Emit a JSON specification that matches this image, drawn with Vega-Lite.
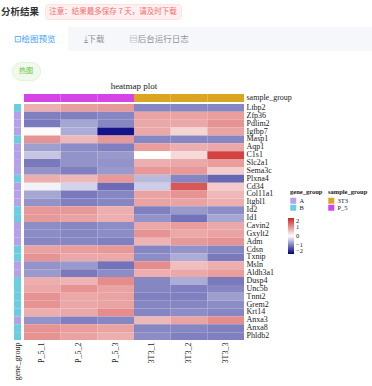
{
"$schema": "https://vega.github.io/schema/vega-lite/v6.json",
"background": "white",
"padding": {"left": 0, "top": 3, "right": 0, "bottom": 0},
"spacing": 0,
"config": {
  "view": {"stroke": null},
  "axis": {"domain": false, "ticks": false, "title": null, "labelFont": "Liberation Serif", "labelFontSize": 8, "labelColor": "#1a1a1a", "labelPadding": 2, "labelOverlap": false, "labelBound": false},
  "legend": {"titleFont": "Liberation Serif", "labelFont": "Liberation Serif", "titleFontSize": 6.5, "labelFontSize": 6.5, "titleColor": "#1a1a1a", "labelColor": "#1a1a1a", "titleFontWeight": "bold", "symbolType": "square", "symbolSize": 36, "symbolStrokeWidth": 0, "rowPadding": 0, "titlePadding": 2, "labelOffset": 3, "labelOverlap": false},
  "text": {"baseline": "middle"}
},
"datasets": {
  "samples": [
    {"sample": "P_5_1", "sample_group": "P_5"},
    {"sample": "P_5_2", "sample_group": "P_5"},
    {"sample": "P_5_3", "sample_group": "P_5"},
    {"sample": "3T3_1", "sample_group": "3T3"},
    {"sample": "3T3_2", "sample_group": "3T3"},
    {"sample": "3T3_3", "sample_group": "3T3"}
  ],
  "genes": [
    {"gene": "Ltbp2", "gene_group": "B"},
    {"gene": "Zfp36", "gene_group": "A"},
    {"gene": "Pdlim2", "gene_group": "A"},
    {"gene": "Igfbp7", "gene_group": "A"},
    {"gene": "Masp1", "gene_group": "B"},
    {"gene": "Aqp1", "gene_group": "A"},
    {"gene": "C1s1", "gene_group": "A"},
    {"gene": "Slc2a1", "gene_group": "A"},
    {"gene": "Sema3c", "gene_group": "A"},
    {"gene": "Plxna4", "gene_group": "B"},
    {"gene": "Cd34", "gene_group": "A"},
    {"gene": "Col11a1", "gene_group": "A"},
    {"gene": "Itgbl1", "gene_group": "A"},
    {"gene": "Id2", "gene_group": "B"},
    {"gene": "Id1", "gene_group": "B"},
    {"gene": "Cavin2", "gene_group": "A"},
    {"gene": "Gxylt2", "gene_group": "A"},
    {"gene": "Adm", "gene_group": "A"},
    {"gene": "Cdsn", "gene_group": "B"},
    {"gene": "Txnip", "gene_group": "B"},
    {"gene": "Msln", "gene_group": "A"},
    {"gene": "Aldh3a1", "gene_group": "A"},
    {"gene": "Dusp4", "gene_group": "B"},
    {"gene": "Unc5b", "gene_group": "B"},
    {"gene": "Tnnt2", "gene_group": "B"},
    {"gene": "Grem2", "gene_group": "B"},
    {"gene": "Krt14", "gene_group": "B"},
    {"gene": "Anxa3", "gene_group": "A"},
    {"gene": "Anxa8", "gene_group": "B"},
    {"gene": "Phldb2", "gene_group": "B"}
  ],
  "cells": [
    {"gene":"Ltbp2","sample":"P_5_1","value":0.75},{"gene":"Ltbp2","sample":"P_5_2","value":0.9},{"gene":"Ltbp2","sample":"P_5_3","value":0.95},{"gene":"Ltbp2","sample":"3T3_1","value":-0.95},{"gene":"Ltbp2","sample":"3T3_2","value":-0.95},{"gene":"Ltbp2","sample":"3T3_3","value":-0.95},
    {"gene":"Zfp36","sample":"P_5_1","value":-1.0},{"gene":"Zfp36","sample":"P_5_2","value":-1.0},{"gene":"Zfp36","sample":"P_5_3","value":-0.95},{"gene":"Zfp36","sample":"3T3_1","value":0.85},{"gene":"Zfp36","sample":"3T3_2","value":0.85},{"gene":"Zfp36","sample":"3T3_3","value":0.9},
    {"gene":"Pdlim2","sample":"P_5_1","value":-1.05},{"gene":"Pdlim2","sample":"P_5_2","value":-0.7},{"gene":"Pdlim2","sample":"P_5_3","value":-0.95},{"gene":"Pdlim2","sample":"3T3_1","value":0.8},{"gene":"Pdlim2","sample":"3T3_2","value":0.8},{"gene":"Pdlim2","sample":"3T3_3","value":1.0},
    {"gene":"Igfbp7","sample":"P_5_1","value":0.05},{"gene":"Igfbp7","sample":"P_5_2","value":-0.65},{"gene":"Igfbp7","sample":"P_5_3","value":-1.85},{"gene":"Igfbp7","sample":"3T3_1","value":0.8},{"gene":"Igfbp7","sample":"3T3_2","value":0.4},{"gene":"Igfbp7","sample":"3T3_3","value":0.85},
    {"gene":"Masp1","sample":"P_5_1","value":1.0},{"gene":"Masp1","sample":"P_5_2","value":0.65},{"gene":"Masp1","sample":"P_5_3","value":0.95},{"gene":"Masp1","sample":"3T3_1","value":-0.95},{"gene":"Masp1","sample":"3T3_2","value":-0.95},{"gene":"Masp1","sample":"3T3_3","value":-0.95},
    {"gene":"Aqp1","sample":"P_5_1","value":-0.75},{"gene":"Aqp1","sample":"P_5_2","value":-0.9},{"gene":"Aqp1","sample":"P_5_3","value":-1.0},{"gene":"Aqp1","sample":"3T3_1","value":0.9},{"gene":"Aqp1","sample":"3T3_2","value":0.75},{"gene":"Aqp1","sample":"3T3_3","value":0.8},
    {"gene":"C1s1","sample":"P_5_1","value":-0.45},{"gene":"C1s1","sample":"P_5_2","value":-0.85},{"gene":"C1s1","sample":"P_5_3","value":-0.8},{"gene":"C1s1","sample":"3T3_1","value":0.0},{"gene":"C1s1","sample":"3T3_2","value":0.35},{"gene":"C1s1","sample":"3T3_3","value":1.75},
    {"gene":"Slc2a1","sample":"P_5_1","value":-1.05},{"gene":"Slc2a1","sample":"P_5_2","value":-0.85},{"gene":"Slc2a1","sample":"P_5_3","value":-0.85},{"gene":"Slc2a1","sample":"3T3_1","value":0.75},{"gene":"Slc2a1","sample":"3T3_2","value":0.8},{"gene":"Slc2a1","sample":"3T3_3","value":0.9},
    {"gene":"Sema3c","sample":"P_5_1","value":-0.85},{"gene":"Sema3c","sample":"P_5_2","value":-1.0},{"gene":"Sema3c","sample":"P_5_3","value":-0.8},{"gene":"Sema3c","sample":"3T3_1","value":0.95},{"gene":"Sema3c","sample":"3T3_2","value":0.95},{"gene":"Sema3c","sample":"3T3_3","value":0.45},
    {"gene":"Plxna4","sample":"P_5_1","value":0.75},{"gene":"Plxna4","sample":"P_5_2","value":0.65},{"gene":"Plxna4","sample":"P_5_3","value":0.95},{"gene":"Plxna4","sample":"3T3_1","value":-0.55},{"gene":"Plxna4","sample":"3T3_2","value":-0.95},{"gene":"Plxna4","sample":"3T3_3","value":-1.2},
    {"gene":"Cd34","sample":"P_5_1","value":-0.1},{"gene":"Cd34","sample":"P_5_2","value":-0.35},{"gene":"Cd34","sample":"P_5_3","value":-1.15},{"gene":"Cd34","sample":"3T3_1","value":-0.4},{"gene":"Cd34","sample":"3T3_2","value":1.55},{"gene":"Cd34","sample":"3T3_3","value":0.5},
    {"gene":"Col11a1","sample":"P_5_1","value":-0.7},{"gene":"Col11a1","sample":"P_5_2","value":-1.05},{"gene":"Col11a1","sample":"P_5_3","value":-0.95},{"gene":"Col11a1","sample":"3T3_1","value":0.85},{"gene":"Col11a1","sample":"3T3_2","value":1.0},{"gene":"Col11a1","sample":"3T3_3","value":0.65},
    {"gene":"Itgbl1","sample":"P_5_1","value":-0.85},{"gene":"Itgbl1","sample":"P_5_2","value":-1.0},{"gene":"Itgbl1","sample":"P_5_3","value":-0.95},{"gene":"Itgbl1","sample":"3T3_1","value":0.85},{"gene":"Itgbl1","sample":"3T3_2","value":0.85},{"gene":"Itgbl1","sample":"3T3_3","value":0.75},
    {"gene":"Id2","sample":"P_5_1","value":0.95},{"gene":"Id2","sample":"P_5_2","value":0.95},{"gene":"Id2","sample":"P_5_3","value":0.75},{"gene":"Id2","sample":"3T3_1","value":-1.0},{"gene":"Id2","sample":"3T3_2","value":-0.8},{"gene":"Id2","sample":"3T3_3","value":-0.9},
    {"gene":"Id1","sample":"P_5_1","value":0.95},{"gene":"Id1","sample":"P_5_2","value":0.85},{"gene":"Id1","sample":"P_5_3","value":0.75},{"gene":"Id1","sample":"3T3_1","value":-0.85},{"gene":"Id1","sample":"3T3_2","value":-1.1},{"gene":"Id1","sample":"3T3_3","value":-0.7},
    {"gene":"Cavin2","sample":"P_5_1","value":-0.9},{"gene":"Cavin2","sample":"P_5_2","value":-0.95},{"gene":"Cavin2","sample":"P_5_3","value":-0.9},{"gene":"Cavin2","sample":"3T3_1","value":0.8},{"gene":"Cavin2","sample":"3T3_2","value":0.9},{"gene":"Cavin2","sample":"3T3_3","value":0.8},
    {"gene":"Gxylt2","sample":"P_5_1","value":-0.9},{"gene":"Gxylt2","sample":"P_5_2","value":-0.95},{"gene":"Gxylt2","sample":"P_5_3","value":-0.9},{"gene":"Gxylt2","sample":"3T3_1","value":1.0},{"gene":"Gxylt2","sample":"3T3_2","value":0.8},{"gene":"Gxylt2","sample":"3T3_3","value":0.85},
    {"gene":"Adm","sample":"P_5_1","value":-0.95},{"gene":"Adm","sample":"P_5_2","value":-0.95},{"gene":"Adm","sample":"P_5_3","value":-1.0},{"gene":"Adm","sample":"3T3_1","value":0.7},{"gene":"Adm","sample":"3T3_2","value":0.95},{"gene":"Adm","sample":"3T3_3","value":1.0},
    {"gene":"Cdsn","sample":"P_5_1","value":0.85},{"gene":"Cdsn","sample":"P_5_2","value":0.9},{"gene":"Cdsn","sample":"P_5_3","value":0.95},{"gene":"Cdsn","sample":"3T3_1","value":-0.95},{"gene":"Cdsn","sample":"3T3_2","value":-0.85},{"gene":"Cdsn","sample":"3T3_3","value":-0.95},
    {"gene":"Txnip","sample":"P_5_1","value":1.0},{"gene":"Txnip","sample":"P_5_2","value":0.8},{"gene":"Txnip","sample":"P_5_3","value":0.8},{"gene":"Txnip","sample":"3T3_1","value":-0.9},{"gene":"Txnip","sample":"3T3_2","value":-0.65},{"gene":"Txnip","sample":"3T3_3","value":-1.05},
    {"gene":"Msln","sample":"P_5_1","value":-0.85},{"gene":"Msln","sample":"P_5_2","value":-0.8},{"gene":"Msln","sample":"P_5_3","value":-1.1},{"gene":"Msln","sample":"3T3_1","value":1.05},{"gene":"Msln","sample":"3T3_2","value":0.6},{"gene":"Msln","sample":"3T3_3","value":0.75},
    {"gene":"Aldh3a1","sample":"P_5_1","value":-0.8},{"gene":"Aldh3a1","sample":"P_5_2","value":-1.05},{"gene":"Aldh3a1","sample":"P_5_3","value":-0.9},{"gene":"Aldh3a1","sample":"3T3_1","value":0.75},{"gene":"Aldh3a1","sample":"3T3_2","value":0.8},{"gene":"Aldh3a1","sample":"3T3_3","value":0.9},
    {"gene":"Dusp4","sample":"P_5_1","value":0.75},{"gene":"Dusp4","sample":"P_5_2","value":0.7},{"gene":"Dusp4","sample":"P_5_3","value":1.05},{"gene":"Dusp4","sample":"3T3_1","value":-0.95},{"gene":"Dusp4","sample":"3T3_2","value":-0.65},{"gene":"Dusp4","sample":"3T3_3","value":-1.05},
    {"gene":"Unc5b","sample":"P_5_1","value":0.8},{"gene":"Unc5b","sample":"P_5_2","value":1.0},{"gene":"Unc5b","sample":"P_5_3","value":0.85},{"gene":"Unc5b","sample":"3T3_1","value":-0.95},{"gene":"Unc5b","sample":"3T3_2","value":-1.0},{"gene":"Unc5b","sample":"3T3_3","value":-0.95},
    {"gene":"Tnnt2","sample":"P_5_1","value":1.0},{"gene":"Tnnt2","sample":"P_5_2","value":0.8},{"gene":"Tnnt2","sample":"P_5_3","value":0.85},{"gene":"Tnnt2","sample":"3T3_1","value":-1.0},{"gene":"Tnnt2","sample":"3T3_2","value":-1.0},{"gene":"Tnnt2","sample":"3T3_3","value":-0.75},
    {"gene":"Grem2","sample":"P_5_1","value":1.0},{"gene":"Grem2","sample":"P_5_2","value":0.8},{"gene":"Grem2","sample":"P_5_3","value":0.85},{"gene":"Grem2","sample":"3T3_1","value":-0.95},{"gene":"Grem2","sample":"3T3_2","value":-0.95},{"gene":"Grem2","sample":"3T3_3","value":-0.9},
    {"gene":"Krt14","sample":"P_5_1","value":0.75},{"gene":"Krt14","sample":"P_5_2","value":0.8},{"gene":"Krt14","sample":"P_5_3","value":1.05},{"gene":"Krt14","sample":"3T3_1","value":-0.95},{"gene":"Krt14","sample":"3T3_2","value":-0.9},{"gene":"Krt14","sample":"3T3_3","value":-0.95},
    {"gene":"Anxa3","sample":"P_5_1","value":-0.85},{"gene":"Anxa3","sample":"P_5_2","value":-1.0},{"gene":"Anxa3","sample":"P_5_3","value":-0.95},{"gene":"Anxa3","sample":"3T3_1","value":0.65},{"gene":"Anxa3","sample":"3T3_2","value":0.85},{"gene":"Anxa3","sample":"3T3_3","value":1.05},
    {"gene":"Anxa8","sample":"P_5_1","value":1.0},{"gene":"Anxa8","sample":"P_5_2","value":0.9},{"gene":"Anxa8","sample":"P_5_3","value":0.85},{"gene":"Anxa8","sample":"3T3_1","value":-0.95},{"gene":"Anxa8","sample":"3T3_2","value":-0.95},{"gene":"Anxa8","sample":"3T3_3","value":-1.0},
    {"gene":"Phldb2","sample":"P_5_1","value":1.0},{"gene":"Phldb2","sample":"P_5_2","value":0.85},{"gene":"Phldb2","sample":"P_5_3","value":0.75},{"gene":"Phldb2","sample":"3T3_1","value":-0.9},{"gene":"Phldb2","sample":"3T3_2","value":-1.0},{"gene":"Phldb2","sample":"3T3_3","value":-1.0}
  ]
},
"vconcat": [
  {
    "spacing": 7,
    "vconcat": [
      {
        "spacing": 4,
        "hconcat": [
          {"width": 38, "height": 15, "data": {"values": [{"t": "分析结果"}]},
           "mark": {"type": "text", "font": "Noto Sans CJK SC", "fontSize": 9.5, "fontWeight": "bold", "color": "#303133"},
           "encoding": {"text": {"field": "t"}}},
          {"width": 136, "height": 15, "view": {"fill": "#fef0f0", "stroke": "#fde2e2", "cornerRadius": 3},
           "data": {"values": [{"t": "注意：结果最多保存 7 天，请及时下载"}]},
           "mark": {"type": "text", "font": "Noto Sans CJK SC", "fontSize": 7.5, "color": "#f56c6c"},
           "encoding": {"text": {"field": "t"}}}
        ]
      },
      {
        "spacing": 10,
        "vconcat": [
          {
            "spacing": 0,
            "hconcat": [
              {"width": 67, "height": 24, "view": {"fill": "#ffffff"}, "data": {"values": [{"t": "⊡绘图预览"}]},
               "mark": {"type": "text", "font": "Noto Sans CJK SC", "fontSize": 8.5, "color": "#409eff"},
               "encoding": {"text": {"field": "t"}}},
              {"width": 52, "height": 24, "view": {"fill": "#f5f7fa"}, "data": {"values": [{"t": "⤓下载"}]},
               "mark": {"type": "text", "font": "Noto Sans CJK SC", "fontSize": 8.5, "color": "#909399"},
               "encoding": {"text": {"field": "t"}}},
              {"width": 78, "height": 24, "view": {"fill": "#f5f7fa"}, "data": {"values": [{"t": "▤后台运行日志"}]},
               "mark": {"type": "text", "font": "Noto Sans CJK SC", "fontSize": 8.5, "color": "#909399"},
               "encoding": {"text": {"field": "t"}}},
              {"width": 175, "height": 24, "view": {"fill": "#f5f7fa"}, "data": {"values": [{"t": ""}]},
               "mark": {"type": "text"},
               "encoding": {"text": {"field": "t"}}}
            ]
          },
          {
            "spacing": 0,
            "hconcat": [
              {"width": 10, "height": 18, "data": {"values": [{"t": ""}]},
               "mark": {"type": "text"},
               "encoding": {"text": {"field": "t"}}},
              {"width": 28, "height": 18, "view": {"fill": "#f0f9eb", "stroke": "#e1f3d8", "cornerRadius": 9},
               "data": {"values": [{"t": "热图"}]},
               "mark": {"type": "text", "font": "Noto Sans CJK SC", "fontSize": 7, "color": "#67c23a"},
               "encoding": {"text": {"field": "t"}}}
            ]
          }
        ]
      }
    ]
  },
  {
    "bounds": "flush",
    "columns": 3,
    "spacing": {"row": 2, "column": 3},
    "resolve": {"scale": {"color": "independent"}, "legend": {"color": "independent"}},
    "concat": [
      {"width": 10, "height": 8, "data": {"values": [{"t": ""}]},
       "mark": {"type": "text"},
       "encoding": {"text": {"field": "t"}}},
      {"width": 7, "height": 8, "data": {"values": [{"t": ""}]},
       "mark": {"type": "text"},
       "encoding": {"text": {"field": "t"}}},
      {"width": 220, "height": 8,
       "title": {"text": "heatmap plot", "font": "Liberation Serif", "fontSize": 9, "fontWeight": "normal", "color": "#1a1a1a", "offset": 3, "anchor": "middle"},
       "data": {"name": "samples"},
       "mark": {"type": "rect"},
       "encoding": {
         "x": {"field": "sample", "type": "nominal", "sort": null, "axis": null, "scale": {"paddingInner": 0, "paddingOuter": 0}},
         "y": {"datum": "sample_group", "type": "nominal", "scale": {"paddingInner": 0, "paddingOuter": 0}, "axis": {"orient": "right"}},
         "color": {"field": "sample_group", "type": "nominal",
           "scale": {"domain": ["3T3", "P_5"], "range": ["#DAA520", "#D644E8"]},
           "legend": {"title": "sample_group", "orient": "none", "legendX": 304, "legendY": 95}}
       }},
      {"width": 10, "height": 236, "data": {"values": [{"t": ""}]},
       "mark": {"type": "text"},
       "encoding": {"text": {"field": "t"}}},
      {"width": 7, "height": 236,
       "data": {"name": "genes"},
       "mark": {"type": "rect"},
       "encoding": {
         "y": {"field": "gene", "type": "nominal", "sort": null, "axis": null, "scale": {"paddingInner": 0, "paddingOuter": 0}},
         "x": {"datum": "gene_group", "type": "nominal", "scale": {"paddingInner": 0, "paddingOuter": 0}, "axis": {"labelAngle": -90, "orient": "bottom"}},
         "color": {"field": "gene_group", "type": "nominal",
           "scale": {"domain": ["A", "B"], "range": ["#B3A2EB", "#6BCDE0"]},
           "legend": {"title": "gene_group", "orient": "none", "legendX": 276, "legendY": 85}}
       }},
      {"width": 220, "height": 236,
       "data": {"name": "cells"},
       "mark": {"type": "rect"},
       "encoding": {
         "x": {"field": "sample", "type": "nominal", "sort": null, "scale": {"paddingInner": 0, "paddingOuter": 0}, "axis": {"labelAngle": -90, "orient": "bottom"}},
         "y": {"field": "gene", "type": "nominal", "sort": null, "scale": {"paddingInner": 0, "paddingOuter": 0}, "axis": {"orient": "right"}},
         "color": {"field": "value", "type": "quantitative",
           "scale": {"domain": [-2, 0, 2], "range": ["#000080", "#ffffff", "#cd2626"], "interpolate": "rgb"},
           "legend": {"title": null, "orient": "none", "legendX": 264, "legendY": 114, "values": [-2, -1, 0, 1, 2], "gradientLength": 36, "gradientThickness": 6, "direction": "vertical"}}
       }}
    ]
  }
]
}
